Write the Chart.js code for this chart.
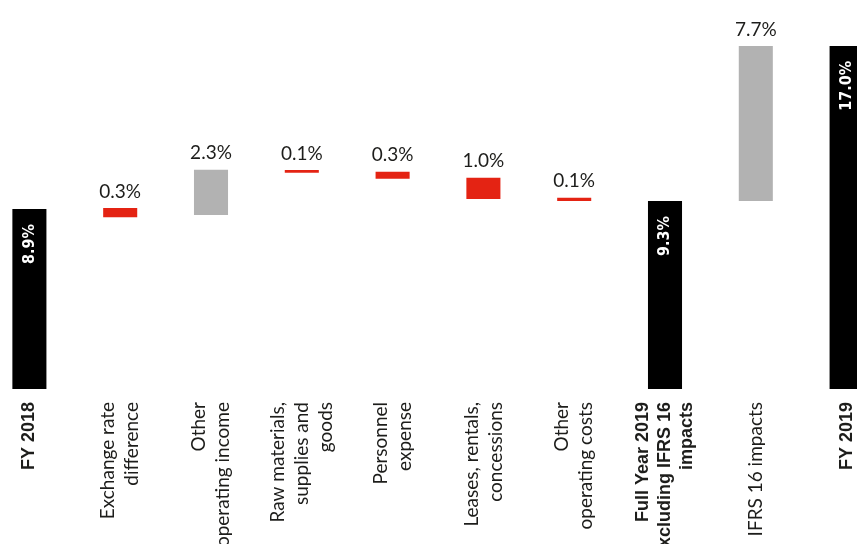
<!DOCTYPE html>
<html>
<head>
<meta charset="utf-8">
<script src="https://cdn.jsdelivr.net/npm/chart.js@4.4.1/dist/chart.umd.min.js"></script>
<style>
  html, body { margin: 0; padding: 0; background: #fff; overflow: hidden; }
  #wrap { position: absolute; left: -16px; top: 0; width: 908px; height: 544px; }
</style>
</head>
<body>
<div id="wrap"><canvas id="waterfall"></canvas></div>
<script>
// categories (multi-line labels)
var categories = [
    ['FY 2018'],
    ['Exchange rate', 'difference'],
    ['Other', 'operating income'],
    ['Raw materials,', 'supplies and', 'goods'],
    ['Personnel', 'expense'],
    ['Leases, rentals,', 'concessions'],
    ['Other', 'operating costs'],
    ['Full Year 2019', 'excluding IFRS 16', 'impacts'],
    ['IFRS 16 impacts'],
    ['FY 2019']
];
// floating bar ranges
var barStart = [0, 8.5, 8.6, 10.7, 10.4, 9.4, 9.3, 0, 9.3, 0];
var barEnd = [8.9, 8.95, 10.85, 10.83, 10.75, 10.45, 9.46, 9.3, 16.97, 16.97];
var valueLabels = ['8.9%', '0.3%', '2.3%', '0.1%', '0.3%', '1.0%', '0.1%', '9.3%', '7.7%', '17.0%'];
// 'total' | 'up' | 'down'
var barKind = ['total', 'down', 'up', 'down', 'down', 'down', 'down', 'total', 'up', 'total'];

var kindColor = { total: '#000000', up: '#b2b2b2', down: '#e42313' };
var textColor = '#1d1d1b';

(function() {
    var ranges = barStart.map(function(s, i) { return [s, barEnd[i]]; });
    var colors = barKind.map(function(k) { return kindColor[k]; });

    // value labels + rotated, centred category labels
    var labelPlugin = {
        id: 'waterfallLabels',
        afterDatasetsDraw: function(chart) {
            var ctx = chart.ctx;
            var meta = chart.getDatasetMeta(0);
            meta.data.forEach(function(bar, i) {
                var top = Math.min(bar.y, bar.base);
                ctx.save();
                if (barKind[i] === 'total') {
                    ctx.translate(bar.x, top + 15);
                    ctx.rotate(-Math.PI / 2);
                    ctx.fillStyle = '#ffffff';
                    ctx.font = 'bold 16px "Liberation Sans Narrow", "DejaVu Sans Condensed", sans-serif';
                    ctx.textAlign = 'right';
                    ctx.textBaseline = 'middle';
                    ctx.fillText(valueLabels[i], 0, 0);
                } else {
                    ctx.fillStyle = textColor;
                    ctx.font = '19px Lato, sans-serif';
                    ctx.textAlign = 'center';
                    ctx.textBaseline = 'bottom';
                    ctx.fillText(valueLabels[i], bar.x, top - 7);
                }
                ctx.restore();
            });

            var xScale = chart.scales.x;
            var y0 = chart.chartArea.bottom + 13;
            categories.forEach(function(lines, i) {
                var x = xScale.getPixelForTick(i);
                var bold = barKind[i] === 'total';
                var lh = bold ? 22 : 24;
                ctx.save();
                ctx.fillStyle = textColor;
                ctx.font = bold ? 'bold 18px "Liberation Sans Narrow", sans-serif' : '19px Lato, sans-serif';
                ctx.textAlign = 'right';
                ctx.textBaseline = 'middle';
                lines.forEach(function(line, j) {
                    ctx.save();
                    ctx.translate(x + (j - (lines.length - 1) / 2) * lh, y0);
                    ctx.rotate(-Math.PI / 2);
                    ctx.fillText(line, 0, 0);
                    ctx.restore();
                });
                ctx.restore();
            });
        }
    };

    new Chart(document.getElementById('waterfall'), {
        type: 'bar',
        data: {
            labels: categories,
            datasets: [{
                data: ranges,
                backgroundColor: colors,
                borderWidth: 0,
                categoryPercentage: 1,
                barPercentage: 0.375
            }]
        },
        options: {
            responsive: true,
            maintainAspectRatio: false,
            animation: false,
            layout: { padding: 0 },
            plugins: {
                legend: { display: false },
                tooltip: { enabled: false }
            },
            scales: {
                x: {
                    grid: { display: false, drawTicks: false },
                    border: { display: false },
                    afterFit: function(scale) { scale.height = 155; },
                    ticks: { display: false, autoSkip: false }
                },
                y: {
                    display: false,
                    min: 0,
                    max: 19.24
                }
            }
        },
        plugins: [labelPlugin]
    });
})();
</script>
</body>
</html>
